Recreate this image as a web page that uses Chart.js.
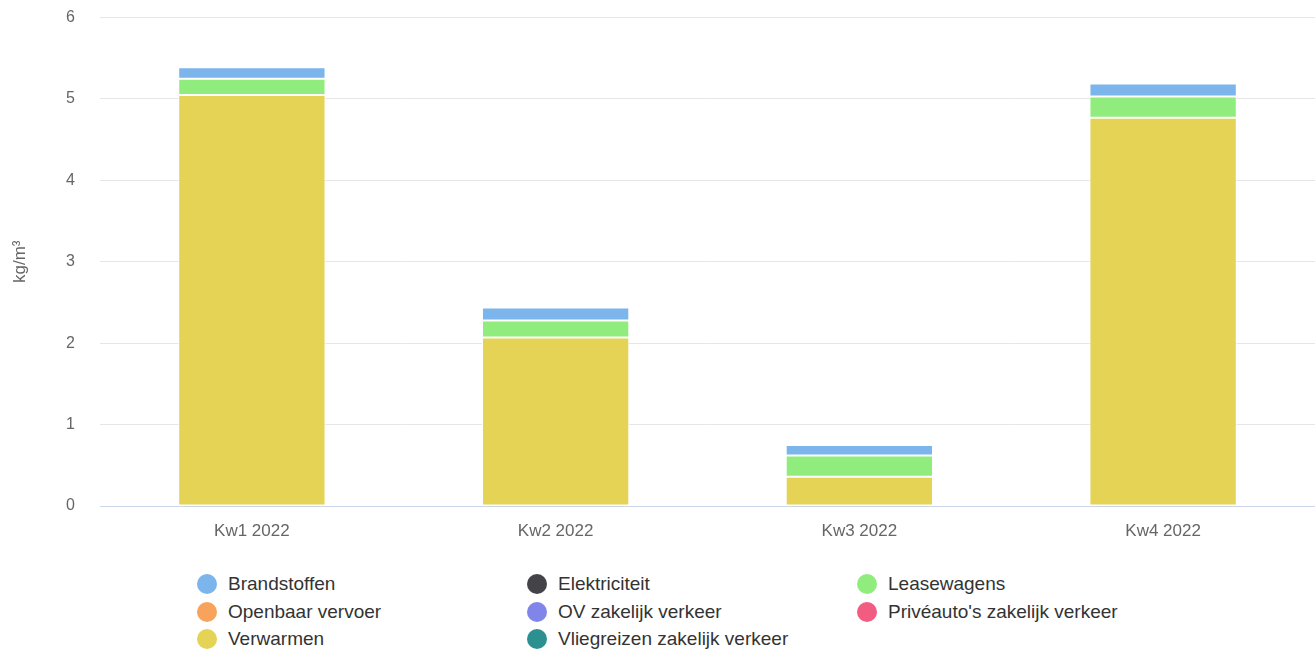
<!DOCTYPE html>
<html>
<head>
<meta charset="utf-8">
<script src="https://cdn.jsdelivr.net/npm/chart.js@4/dist/chart.umd.min.js"></script>
<style>
  html, body { margin: 0; padding: 0; background: #fff; }
  body { width: 1315px; height: 651px; position: relative; overflow: hidden; font-family: "Liberation Sans", Arial, sans-serif; }
  #wrap { position: absolute; left: 0; top: -17px; width: 1315px; height: 562px; }
  #legend { position: absolute; left: 0; top: 570px; width: 1315px; }
  .item { position: absolute; height: 28px; line-height: 28px; font-size: 19px; color: #333; white-space: nowrap; }
  .dot { position: absolute; left: 0; top: 4px; width: 20px; height: 20px; border-radius: 50%; }
  .lbl { position: absolute; left: 31px; top: 0; }
</style>
</head>
<body>
<div id="wrap"><canvas id="c"></canvas></div>
<div id="legend"></div>
<script>
const categories = ["Kw1 2022", "Kw2 2022", "Kw3 2022", "Kw4 2022"];
const seriesNames = ["Brandstoffen", "Elektriciteit", "Leasewagens", "Openbaar vervoer", "OV zakelijk verkeer", "Privéauto's zakelijk verkeer", "Verwarmen", "Vliegreizen zakelijk verkeer"];
const seriesColors = ["#7cb5ec", "#434348", "#90ed7d", "#f7a35c", "#8085e9", "#f15c80", "#e4d354", "#2b908f"];
const brandstoffen = [0.14, 0.16, 0.13, 0.16];
const elektriciteit = [0, 0, 0, 0];
const leasewagens = [0.20, 0.21, 0.26, 0.26];
const openbaarVervoer = [0, 0, 0, 0];
const ovZakelijk = [0, 0, 0, 0];
const priveauto = [0, 0, 0, 0];
const verwarmen = [5.05, 2.07, 0.36, 4.77];
const vliegreizen = [0, 0, 0, 0];
const yTicks = [0, 1, 2, 3, 4, 5, 6];
const yTitle = "kg/m³";

const seriesValues = [brandstoffen, elektriciteit, leasewagens, openbaarVervoer, ovZakelijk, priveauto, verwarmen, vliegreizen];

// Chart.js stacks first dataset at bottom; reverse to match the reference stacking
const datasets = seriesNames.map((n, i) => ({
  label: n,
  data: seriesValues[i],
  backgroundColor: seriesColors[i],
  borderColor: "#ffffff",
  borderWidth: 1,
  borderSkipped: false,
  categoryPercentage: 1,
  barPercentage: 0.485
})).reverse();

new Chart(document.getElementById("c"), {
  type: "bar",
  data: { labels: categories, datasets },
  options: {
    responsive: true,
    maintainAspectRatio: false,
    animation: false,
    layout: { padding: { top: 0, right: 0, left: 0, bottom: 0 } },
    plugins: { legend: { display: false }, tooltip: { enabled: false } },
    scales: {
      x: {
        stacked: true,
        grid: { display: false, drawTicks: false },
        border: { display: true, color: "#ccd6eb", width: 1 },
        ticks: { padding: 15, color: "#666666", font: { family: "Liberation Sans", size: 17 } },
        afterFit: s => { s.height = 39; }
      },
      y: {
        stacked: true,
        min: 0, max: 6,
        afterBuildTicks: s => { s.ticks = yTicks.map(v => ({ value: v })); },
        grid: { color: "#e6e6e6", drawTicks: false },
        border: { display: false },
        ticks: { padding: 25, color: "#666666", font: { family: "Liberation Sans", size: 16 } },
        title: { display: true, text: yTitle, color: "#666666", padding: 10, font: { family: "Liberation Sans", size: 17 } },
        afterFit: s => { s.width = 100; }
      }
    }
  }
});

// HTML legend, 3 columns
const legend = document.getElementById("legend");
const colX = [197, 527, 857];
seriesNames.forEach((n, i) => {
  const col = i % 3, row = Math.floor(i / 3);
  const d = document.createElement("div");
  d.className = "item";
  d.style.left = colX[col] + "px";
  d.style.top = (row * 27.5) + "px";
  d.innerHTML = '<span class="dot" style="background:' + seriesColors[i] + '"></span><span class="lbl"></span>';
  d.querySelector(".lbl").textContent = n;
  legend.appendChild(d);
});
</script>
</body>
</html>
